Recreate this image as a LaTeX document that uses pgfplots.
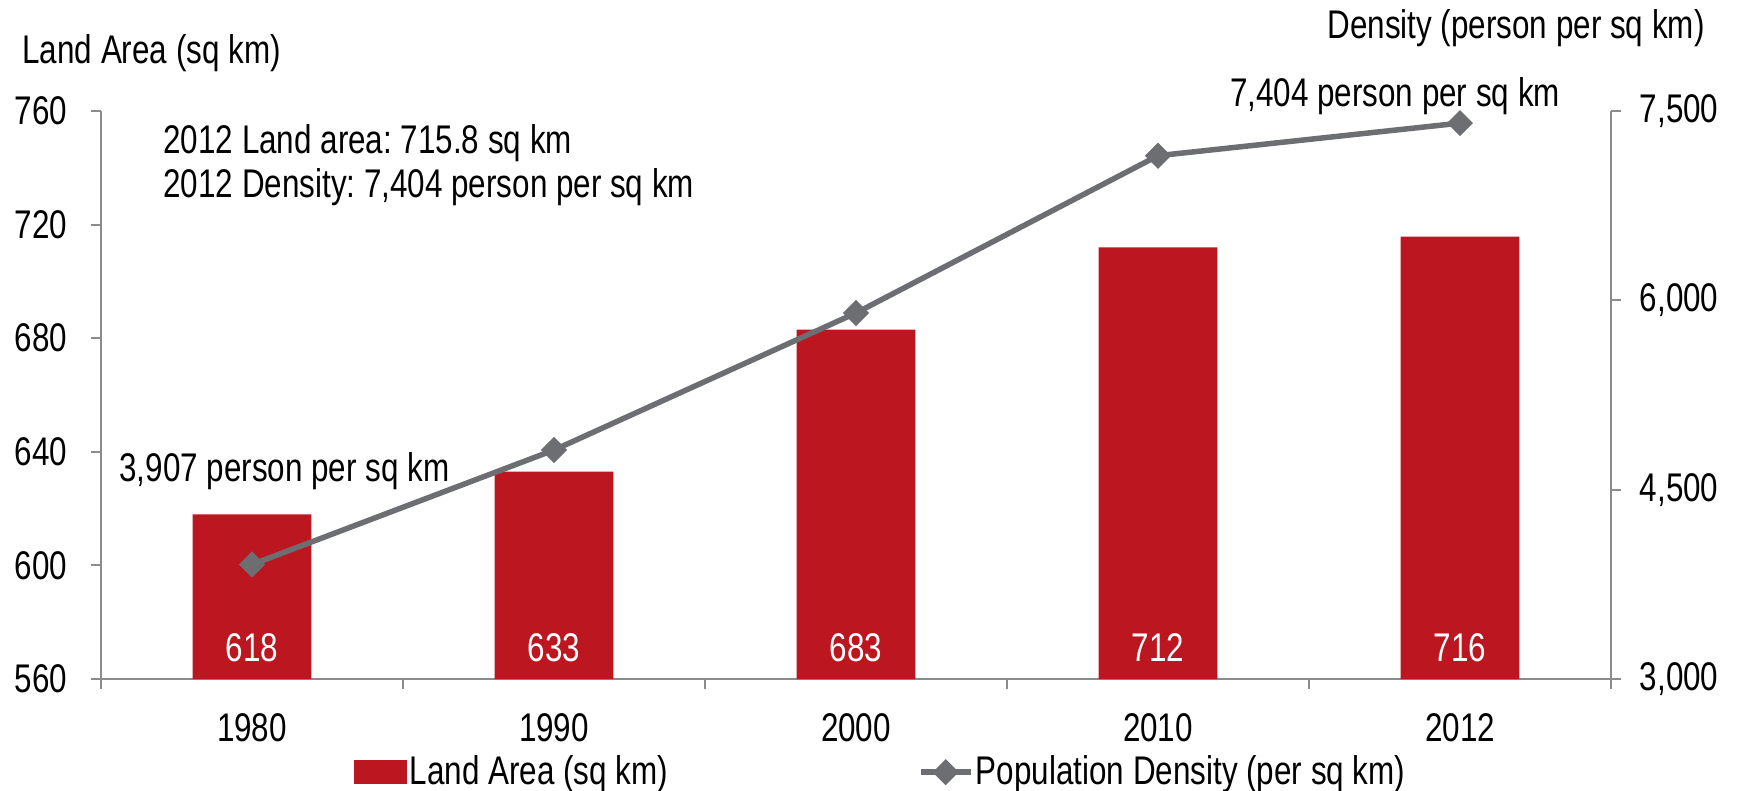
\documentclass[border=0pt]{standalone}
\usepackage{fontspec}
\setmainfont[FakeStretch=0.785]{Liberation Sans}
\usepackage{pgfplots}
\pgfplotsset{compat=1.18}
\usepackage{pgfplotstable}

\definecolor{barred}{HTML}{BC1620}
\definecolor{linegray}{HTML}{6D6E71}
\definecolor{axisgray}{HTML}{8C8C8C}

\pgfplotsset{
  short line legend/.style={
    legend image code/.code={%
      \draw[mark repeat=2, mark phase=2, #1] plot coordinates {(0pt,0pt) (10pt,0pt) (20pt,0pt)};}},
  red box legend/.style={
    legend image code/.code={\fill[barred] (0pt,-4.5pt) rectangle (21pt,4.5pt);}},
}

\pgfplotstableread{
x year area density
0 1980 618 3907
1 1990 633 4814
2 2000 683 5900
3 2010 712 7146
4 2012 715.8 7404
}\datatable

\begin{document}
\frenchspacing
\begin{tikzpicture}[font=\fontsize{16}{19}\selectfont]
\useasboundingbox (0,0) rectangle (695.6pt,316pt);
\pgfplotsset{
  common/.style={
    at={(40.4pt,44.4pt)}, anchor=south west,
    scale only axis, width=604pt, height=227.2pt,
    xmin=-0.5, xmax=4.5,
    axis line style={axisgray, line width=0.8pt},
    x axis line style={-}, y axis line style={-},
    tick style={axisgray, line width=0.8pt},
    major tick length=4pt,
    tick align=outside,
    /pgf/number format/assume math mode=true,
  }
}
% land area bars, left axis
\begin{axis}[common,
  axis x line*=bottom, axis y line*=left,
  xtick pos=bottom, ytick pos=left, yticklabel pos=left,
  ymin=560, ymax=760, ytick={560,600,...,760},
  xtick={-0.5,0.5,...,4.5},
  xticklabels={1980,1990,2000,2010,2012},
  x tick label as interval,
  xticklabel style={inner sep=0pt, yshift=-9.5pt},
  yticklabel style={xshift=-6pt},
]
\addplot[ybar, fill=barred, draw=none, bar width=47.5pt] table[x=x, y=area]{\datatable};
\addplot[draw=none, mark=none, point meta=explicit,
  nodes near coords={\pgfmathprintnumber[fixed,precision=0]{\pgfplotspointmeta}},
  nodes near coords align={center},
  every node near coord/.append style={text=white, anchor=center}]
  table[x=x, y expr=571, meta=area]{\datatable};
\end{axis}
% population density line, right axis
\begin{axis}[common,
  axis x line=none, axis y line*=right,
  ytick pos=right, yticklabel pos=right,
  ymin=3000, ymax=7500, ytick={3000,4500,6000,7500},
  scaled y ticks=false,
  yticklabel style={xshift=4pt},
  legend style={at={(0.167,-0.164)}, anchor=west, draw=none, fill=none,
    legend columns=2, inner sep=0pt,
    nodes={inner sep=1pt},
    /tikz/every even column/.append style={column sep=99pt}},
]
\addlegendimage{red box legend}
\addlegendentry{Land Area (sq km)}
\addplot[linegray, line width=2.2pt, mark=square*, mark size=2.6pt,
  mark options={rotate=45, solid}, short line legend]
  table[x=x, y=density]{\datatable};
\addlegendentry{Population Density (per sq km)}
\end{axis}
% axis titles and notes
\begin{scope}[every node/.style={inner sep=0pt}]
\node[anchor=west] at (8.8pt,294.8pt) {Land Area (sq km)};
\node[anchor=east] at (682pt,304.8pt) {Density (person per sq km)};
\node[anchor=west] at (65.2pt,258.8pt) {2012 Land area: 715.8 sq km};
\node[anchor=west] at (65.2pt,241.2pt) {2012 Density: 7,404 person per sq km};
\node[anchor=west] at (47.6pt,127.6pt) {3,907 person per sq km};
\node at (558pt,277.4pt) {7,404 person per sq km};
\end{scope}
\end{tikzpicture}
\end{document}
